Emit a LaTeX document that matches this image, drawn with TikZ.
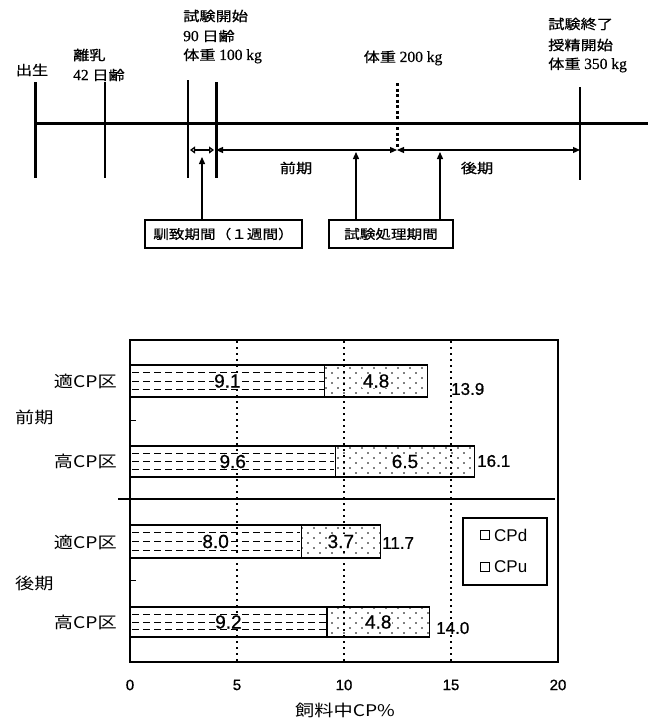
\documentclass[tikz,border=0pt]{standalone}
\usepackage{fontspec}
\setmainfont{Liberation Serif}[FakeBold=0.5]
\setsansfont{Liberation Sans}
\newfontfamily\sfb{Liberation Sans}[FakeBold=0.8]
\newfontfamily\jp{Noto Sans CJK JP}[FakeStretch=1.2]
\newfontfamily\jpt{Noto Sans CJK JP}[FakeStretch=1.2,FakeBold=0.6]
\usetikzlibrary{arrows.meta,patterns}
\pgfdeclarepatternformonly{sparsedots}{\pgfqpoint{-1pt}{-1pt}}{\pgfqpoint{13pt}{11pt}}{\pgfqpoint{12pt}{10pt}}{%
 \pgfpathcircle{\pgfqpoint{2pt}{2pt}}{0.8pt}\pgfpathcircle{\pgfqpoint{8pt}{7pt}}{0.8pt}\pgfusepath{fill}}
\newcommand\tnum[1]{{\rmfamily\fontsize{15.5}{16}\selectfont #1}}
\tikzset{
 tl/.style={font=\jpt\fontsize{13.5}{15}\selectfont, inner sep=0pt},
 tlw/.style={tl, anchor=west},
 mainline/.style={line width=3pt},
 thickv/.style={line width=3pt},
 thinv/.style={line width=1.4pt},
 per/.style={line width=1.2pt, {Triangle[length=7pt,width=6pt]}-{Triangle[length=7pt,width=6pt]}},
 uparr/.style={line width=1.3pt, -{Triangle[length=7pt,width=6pt]}},
 tbox/.style={draw, line width=2pt, minimum height=28pt, font=\jpt\fontsize{13}{14}\selectfont, inner sep=0pt},
 barline/.style={line width=1.3pt},
 dashrow/.style={line width=1pt, dash pattern=on 7pt off 4pt},
 grid/.style={line width=1.2pt, dash pattern=on 2pt off 4pt},
 val/.style={font=\sfb\fontsize{19}{19}\selectfont, inner sep=0.5pt},
 tot/.style={font=\sfb\fontsize{17}{17}\selectfont, inner sep=0pt, anchor=west},
 cat/.style={font=\jp\fontsize{16}{16}\selectfont, inner sep=0pt, anchor=east},
 grp/.style={font=\jp\fontsize{16}{16}\selectfont, inner sep=0pt, anchor=west},
 tick/.style={font=\sfb\fontsize{15}{15}\selectfont, inner sep=0pt},
 lgt/.style={font=\sffamily\fontsize{17}{17}\selectfont, anchor=west, inner sep=0pt},
 lgs/.style={draw, line width=1pt, minimum size=9pt, inner sep=0pt},
}
\newcommand\cpbar[5]{% name, ytop, ybot, a, b
 \pgfmathsetmacro\xa{130+#4*21.4}
 \pgfmathsetmacro\xb{130+(#4+#5)*21.4}
 \pgfmathsetmacro\ym{(#2+#3)/2}
 \pgfmathsetmacro\hh{#3-#2}
 \foreach \f in {0.24,0.5,0.76} \draw[dashrow] (132,{#2+\f*\hh}) -- (\xa-1,{#2+\f*\hh});
 \fill[pattern=sparsedots] (\xa,#2) rectangle (\xb,#3);
 \draw[barline] (130,#2) rectangle (\xa,#3);
 \draw[barline] (\xa,#2) rectangle (\xb,#3);
 \node[val, fill=white] (#1a) at ({(130+\xa)/2},\ym) {#4};
 \node[val, fill=white] (#1b) at ({(\xa+\xb)/2},\ym) {#5};
}
\begin{document}
\begin{tikzpicture}[x=1pt,y=-1pt]
\useasboundingbox (0,0) rectangle (648,720);
\fill[white] (0,0) rectangle (648,720);
% ---------- timeline ----------
\coordinate (L0) at (35,123);
\coordinate (Lend) at (648,123);
\draw[mainline] (L0) -- (Lend);
\coordinate (b1) at (35,82);  \coordinate (b2) at (35,178);
\coordinate (w1) at (105,82); \coordinate (w2) at (105,178);
\coordinate (p1) at (188,80); \coordinate (p2) at (188,178);
\coordinate (s1) at (216,82); \coordinate (s2) at (216,178);
\coordinate (m1) at (397,83); \coordinate (m2) at (397,148);
\coordinate (e1) at (580,87); \coordinate (e2) at (580,180);
\draw[thickv] (b1) -- (b2);
\draw[thinv] (w1) -- (w2);
\draw[thinv] (p1) -- (p2);
\draw[thickv] (s1) -- (s2);
\draw[line width=3pt, dash pattern=on 3pt off 2.5pt] (m1) -- (m2);
\draw[line width=2.4pt] (e1) -- (e2);
% period arrows
\coordinate (a1) at (216,150); \coordinate (a2) at (397,150); \coordinate (a3) at (580,150);
\draw[per] (a1) -- (a2);
\draw[per] (a2) -- (a3);
\coordinate (h1) at (190,150); \coordinate (h2) at (214,150);
\draw[line width=1.3pt, {Triangle[length=5pt,width=7pt,open]}-{Triangle[length=5pt,width=7pt,open]}] (h1) -- (h2);
% labels
\node[tl] (birth) at (32,70) {出生};
\node[tlw] (wean1) at (73,55) {離乳};
\node[tlw] (wean2) at (73,75) {\tnum{42} 日齢};
\node[tlw] (st1) at (183,16) {試験開始};
\node[tlw] (st2) at (183,36) {\tnum{90} 日齢};
\node[tlw] (st3) at (183,56) {体重 \tnum{100 kg}};
\node[tl] (mid) at (403,58) {体重 \tnum{200 kg}};
\node[tlw] (en1) at (548,24) {試験終了};
\node[tlw] (en2) at (548,45) {授精開始};
\node[tlw] (en3) at (548,65) {体重 \tnum{350 kg}};
\node[tl] (zen) at (296,168) {前期};
\node[tl] (kou) at (477,168) {後期};
% boxes
\node[tbox, minimum width=157pt] (acc) at (223.5,234) {馴致期間（１週間）};
\node[tbox, minimum width=124pt] (trt) at (391,234) {試験処理期間};
\coordinate (accT) at (202,157);
\draw[uparr] (acc.north -| accT) -- (accT);
\coordinate (tA) at (356,152); \coordinate (tB) at (440,152);
\draw[uparr] (trt.north -| tA) -- (tA);
\draw[uparr] (trt.north -| tB) -- (tB);
% ---------- chart ----------
\foreach \v in {5,10,15} \draw[grid] ({130+\v*21.4},341) -- ({130+\v*21.4},661);
\cpbar{r1}{365}{397}{9.1}{4.8}
\cpbar{r2}{446}{477}{9.6}{6.5}
\cpbar{r3}{525}{558}{8.0}{3.7}
\cpbar{r4}{607}{637}{9.2}{4.8}
\draw[line width=1.3pt] (130,340) rectangle (558,662);
\draw[line width=1.3pt] (118,499) -- (555,499);
\draw[line width=1pt] (130,420) -- (136,420);
\draw[line width=1pt] (130,580) -- (136,580);
\node[tot] (t1) at (451,389) {13.9};
\node[tot] (t2) at (477,461) {16.1};
\node[tot] (t3) at (382,543) {11.7};
\node[tot] (t4) at (436,628) {14.0};
\node[cat] (c1) at (117,381) {適CP区};
\node[cat] (c2) at (117,461) {高CP区};
\node[cat] (c3) at (117,542) {適CP区};
\node[cat] (c4) at (117,622) {高CP区};
\node[grp] (g1) at (15,417) {前期};
\node[grp] (g2) at (15,583) {後期};
% legend
\draw[line width=1.3pt] (463,518) rectangle (547,585);
\node[lgs] (lg1) at (485,535) {};
\node[lgs] (lg2) at (485,567) {};
\node[lgt] (lt1) at (494,535) {CPd};
\node[lgt] (lt2) at (494,567) {CPu};
% x axis
\foreach \v in {0,5,10,15,20} \node[tick] (x\v) at ({130+\v*21.4},685) {\v};
\node[font=\jp\fontsize{16}{16}\selectfont, inner sep=0pt] (xt) at (345,710) {飼料中CP\%};
\end{tikzpicture}
\end{document}
